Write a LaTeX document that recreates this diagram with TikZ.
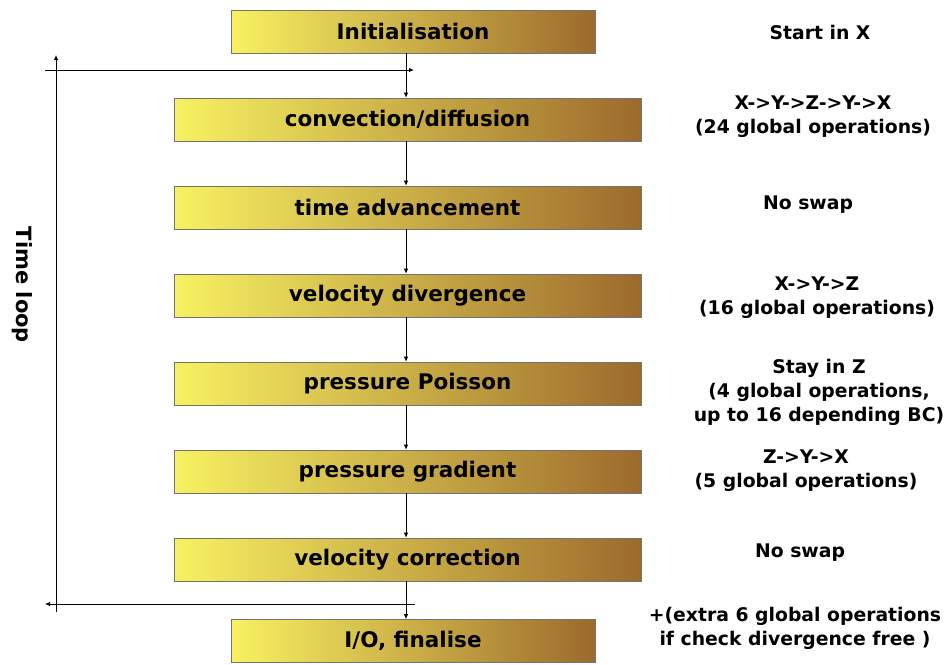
\documentclass[tikz,border=0pt]{standalone}
\usepackage{fontspec}
\setmainfont{DejaVu Sans}
\usetikzlibrary{arrows.meta}
\definecolor{yel}{HTML}{F8F262}
\definecolor{brn}{HTML}{9C6A2C}
\tikzset{
  stepbox/.style={draw=black!55, line width=0.6pt, left color=yel, right color=brn, minimum height=43pt, inner sep=0pt, font=\fontsize{21.5}{24}\selectfont\bfseries},
  widebox/.style={stepbox, minimum width=467pt},
  narrowbox/.style={stepbox, minimum width=364pt},
  note/.style={align=center, font=\fontsize{18.8}{24}\selectfont\bfseries},
  conn/.style={line width=0.8pt, -{Latex[length=5pt,width=4.5pt]}}
}
\begin{document}
\begin{tikzpicture}[x=1pt,y=-1pt]
\useasboundingbox (0,0) rectangle (947,664);
\node[narrowbox] (init) at (413,31.5) {Initialisation};
\node[widebox] (cd) at (407.5,119.5) {convection/diffusion};
\node[widebox] (ta) at (407.5,207.5) {time advancement};
\node[widebox] (vd) at (407.5,295.5) {velocity divergence};
\node[widebox] (pp) at (407.5,383.5) {pressure Poisson};
\node[widebox] (pg) at (407.5,471.5) {pressure gradient};
\node[widebox] (vc) at (407.5,559.5) {velocity correction};
\node[narrowbox] (io) at (413,641) {I/O, finalise};

\coordinate (tl) at (45,70);
\coordinate (tr) at (414,70);
\coordinate (bl) at (45,604);
\coordinate (br) at (415,604);
\coordinate (lt) at (56,55);
\coordinate (lb) at (56,612);

\draw[conn] (init.south -| 406,0) -- (cd.north -| 406,0);
\draw[conn] (cd.south -| 406,0) -- (ta.north -| 406,0);
\draw[conn] (ta.south -| 406,0) -- (vd.north -| 406,0);
\draw[conn] (vd.south -| 406,0) -- (pp.north -| 406,0);
\draw[conn] (pp.south -| 406,0) -- (pg.north -| 406,0);
\draw[conn] (pg.south -| 406,0) -- (vc.north -| 406,0);
\draw[conn] (vc.south -| 406,0) -- (io.north -| 406,0);
\draw[conn] (tl) -- (tr);
\draw[conn] (br) -- (bl);
\draw[conn] (lb) -- (lt);

\node[rotate=-90, font=\fontsize{21}{24}\selectfont\bfseries] (tlabel) at (22,285) {Time loop};

\node[note] (n1) at (820,32) {Start in X};
\node[note] (n2) at (813,117) {X->Y->Z->Y->X\\(24 global operations)};
\node[note] (n3) at (808,205) {No swap};
\node[note] (n4) at (817,298) {X->Y->Z\\(16 global operations)};
\node[note] (n5) at (819,392) {Stay in Z\\(4 global operations,\\up to 16 depending BC)};
\node[note] (n6) at (806,471) {Z->Y->X\\(5 global operations)};
\node[note] (n7) at (800,553) {No swap};
\node[note] (n8) at (795,628) {+(extra 6 global operations\\if check divergence free )};
\end{tikzpicture}
\end{document}
